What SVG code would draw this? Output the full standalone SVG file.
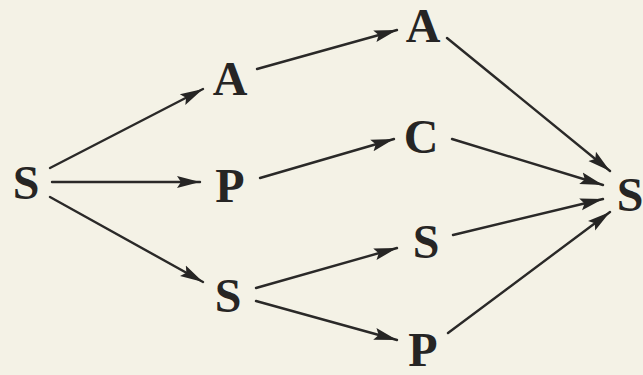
<svg xmlns="http://www.w3.org/2000/svg" width="643" height="375" viewBox="0 0 643 375">
  <style>
    .lbl { font-family: "Liberation Serif", "DejaVu Serif", serif; font-weight: bold; font-size: 48px; fill: #262524; text-anchor: middle; }
    .edge { fill: none; stroke: #2a2928; stroke-width: 2.4; stroke-linecap: round; marker-end: url(#head); }
  </style>
  <defs>
    <marker id="head" markerUnits="userSpaceOnUse" markerWidth="26" markerHeight="14" viewBox="-23 -7 26 14" refX="0" refY="0" orient="auto">
      <path d="M0,0 L-23,-6 L-19,0 L-23,6 Z" fill="#262524"/>
    </marker>
  </defs>
  <rect width="643" height="375" fill="#f4f2e6"/>

  <g id="connectors">
    <path class="edge" d="M50,168 L203,89"/>
    <path class="edge" d="M52,182 L200,182"/>
    <path class="edge" d="M50,197 L203,282"/>
    <path class="edge" d="M257,69 L397,30"/>
    <path class="edge" d="M260,178 L394,139"/>
    <path class="edge" d="M256,288 L397,248"/>
    <path class="edge" d="M256,301 L397,340"/>
    <path class="edge" d="M447,38 L610,171"/>
    <path class="edge" d="M452,139 L603,185"/>
    <path class="edge" d="M453,235 L603,199"/>
    <path class="edge" d="M448,333 L610,212"/>
  </g>

  <g id="s-start"><text class="lbl" x="26" y="199">S</text></g>
  <g id="a-1"><text class="lbl" x="230" y="95">A</text></g>
  <g id="p-1"><text class="lbl" x="230" y="202">P</text></g>
  <g id="s-1"><text class="lbl" x="228" y="312">S</text></g>
  <g id="a-2"><text class="lbl" x="423" y="42">A</text></g>
  <g id="c-2"><text class="lbl" x="421" y="153">C</text></g>
  <g id="s-2"><text class="lbl" x="426" y="258">S</text></g>
  <g id="p-2"><text class="lbl" x="423" y="366">P</text></g>
  <g id="s-end"><text class="lbl" x="630" y="211">S</text></g>
</svg>
